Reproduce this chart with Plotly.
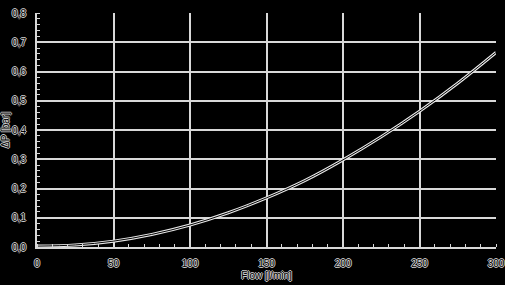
import plotly.graph_objects as go

flow = [0, 25, 50, 75, 100, 125, 150, 175, 200, 225, 250, 275, 300]
dp = [0.003, 0.007, 0.02, 0.043, 0.075, 0.117, 0.168, 0.227, 0.298, 0.377, 0.464, 0.56, 0.665]

x_ticks = [0, 50, 100, 150, 200, 250, 300]
x_labels = ["0", "50", "100", "150", "200", "250", "300"]
y_ticks = [0.0, 0.1, 0.2, 0.3, 0.4, 0.5, 0.6, 0.7, 0.8]
y_labels = ["0,0", "0,1", "0,2", "0,3", "0,4", "0,5", "0,6", "0,7", "0,8"]

shadow = "1px 0 0 #cfcfcf, -1px 0 0 #cfcfcf, 0 1px 0 #cfcfcf, 0 -1px 0 #cfcfcf"
font = dict(family="Liberation Sans", size=10, color="black", shadow=shadow)

fig = go.Figure()
fig.add_trace(go.Scatter(x=flow, y=dp, mode="lines", line=dict(color="#e8e8e8", width=3, shape="spline"),
                         hoverinfo="skip", showlegend=False))
fig.add_trace(go.Scatter(x=flow, y=dp, mode="lines", line=dict(color="black", width=1, shape="spline"),
                         hoverinfo="skip", showlegend=False))

fig.update_layout(
    width=505, height=285,
    margin=dict(l=37, r=9, t=13, b=38, autoexpand=False),
    paper_bgcolor="black", plot_bgcolor="black",
    font=font,
    xaxis=dict(range=[0, 300], tickvals=x_ticks, ticktext=x_labels, showgrid=True,
               gridcolor="#d8d8d8", gridwidth=2, zeroline=False, automargin=False,
               showline=True, linecolor="#d8d8d8", linewidth=2,
               ticks="", tickfont=font, ticklabelstandoff=6,
               minor=dict(dtick=10, ticks="inside", ticklen=3, tickcolor="#d8d8d8", tickwidth=1, showgrid=False),
               title=dict(text="Flow [l/min]", font=font, standoff=4)),
    yaxis=dict(range=[0, 0.8], tickvals=y_ticks, ticktext=y_labels, showgrid=True,
               gridcolor="#d8d8d8", gridwidth=2, zeroline=False, automargin=False,
               showline=True, linecolor="#d8d8d8", linewidth=2,
               ticks="", tickfont=font, ticklabelstandoff=7,
               minor=dict(dtick=0.02, ticks="inside", ticklen=3, tickcolor="#d8d8d8", tickwidth=1, showgrid=False),
               title=dict(text="ΔP [bar]", font=font, standoff=2)),
)
fig.write_html("out.html")
